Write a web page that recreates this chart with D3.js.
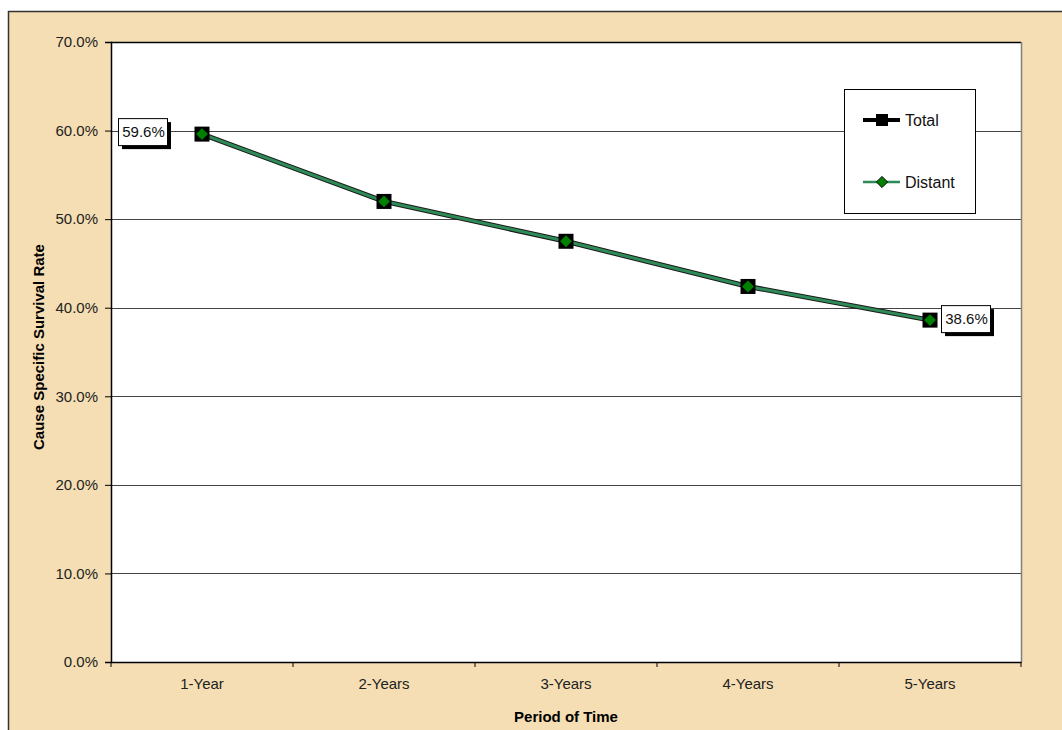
<!DOCTYPE html>
<html><head><meta charset="utf-8">
<script src="https://cdn.jsdelivr.net/npm/d3@7"></script>
<style>body{margin:0;background:#fff;font-family:Arial,"Liberation Sans",sans-serif}</style>
</head><body>
<svg id="c" width="1062" height="730"></svg>
<script>
const categories = ["1-Year","2-Years","3-Years","4-Years","5-Years"];
const totalValues = [0.596, 0.520, 0.475, 0.424, 0.386];
const distantValues = [0.596, 0.520, 0.475, 0.424, 0.386];
const yTicks = [0,0.1,0.2,0.3,0.4,0.5,0.6,0.7];
const seriesNames = ["Total","Distant"];

const FONT = "Arial, 'Liberation Sans', sans-serif";
const svg = d3.select("#c");
const L=111, T=42, R=1021, B=662;
const x = d3.scaleBand().domain(categories).range([L,R]);
const y = d3.scaleLinear().domain([0,0.7]).range([B,T]);
const fmt = d3.format(".1%");

// outer chart area
svg.append("rect").attr("x",8.5).attr("y",11.5).attr("width",1100).attr("height",800)
  .attr("fill","#F5DEB3").attr("stroke","#333").attr("stroke-width",1.5);
// plot area
svg.append("rect").attr("x",L).attr("y",T).attr("width",R-L).attr("height",B-T).attr("fill","#fff");

// gridlines
svg.append("g").selectAll("line").data(yTicks.filter(d=>d>0&&d<0.7)).join("line")
  .attr("x1",L).attr("x2",R).attr("y1",d=>Math.round(y(d))+0.5).attr("y2",d=>Math.round(y(d))+0.5)
  .attr("stroke","#444").attr("stroke-width",1);

// plot border
svg.append("line").attr("x1",L).attr("x2",R).attr("y1",T+0.5).attr("y2",T+0.5).attr("stroke","#000").attr("stroke-width",1.5);
svg.append("line").attr("x1",R+0.5).attr("x2",R+0.5).attr("y1",T).attr("y2",B).attr("stroke","#808080").attr("stroke-width",1.5);

// y axis
const ya = svg.append("g").attr("transform",`translate(${L},0)`)
  .call(d3.axisLeft(y).tickValues(yTicks).tickFormat(fmt).tickSize(6).tickPadding(7));
ya.select(".domain").attr("stroke","#000").attr("stroke-width",1.5);
ya.selectAll("text").style("font-family",FONT).style("font-size","15px").attr("fill","#222");

// x axis
const xa = svg.append("g").attr("transform",`translate(0,${B})`)
  .call(d3.axisBottom(x).tickSize(0).tickPadding(16));
xa.select(".domain").attr("stroke","#000").attr("stroke-width",1.5);
xa.selectAll("text").style("font-family",FONT).style("font-size","15px").attr("fill","#222");
svg.append("g").selectAll("line").data(d3.range(categories.length+1)).join("line")
  .attr("x1",i=>L+i*x.step()).attr("x2",i=>L+i*x.step()).attr("y1",B).attr("y2",B+5)
  .attr("stroke","#000");

// titles
svg.append("text").attr("x",(L+R)/2).attr("y",722).attr("text-anchor","middle")
  .style("font-size","15px").style("font-weight","bold").style("font-family",FONT).text("Period of Time");
svg.append("text").attr("transform",`translate(44,${(T+B)/2-5}) rotate(-90)`).attr("text-anchor","middle")
  .style("font-size","15px").style("font-weight","bold").style("font-family",FONT).text("Cause Specific Survival Rate");

const cx = d=>x(d)+x.bandwidth()/2;
const line = d3.line().x(d=>cx(d[0])).y(d=>y(d[1]));
const totalData = categories.map((c,i)=>[c,totalValues[i]]);
const distData = categories.map((c,i)=>[c,distantValues[i]]);

svg.append("path").attr("d",line(totalData)).attr("fill","none").attr("stroke","#1a1a1a").attr("stroke-width",5);
svg.append("path").attr("d",line(distData)).attr("fill","none").attr("stroke","#2E8B57").attr("stroke-width",3);

svg.append("g").selectAll("rect").data(totalData).join("rect")
  .attr("x",d=>cx(d[0])-7.5).attr("y",d=>y(d[1])-7.5).attr("width",15).attr("height",15).attr("fill","#000");
const diamond = d3.symbol().type(d3.symbolDiamond2).size(90);
svg.append("g").selectAll("path").data(distData).join("path")
  .attr("transform",d=>`translate(${cx(d[0])},${y(d[1])})`).attr("d",diamond).attr("fill","#008000");

// data labels
function label(px,py,text){
  const w=49,h=27;
  svg.append("rect").attr("x",px+4).attr("y",py+4).attr("width",w).attr("height",h).attr("fill","#000");
  svg.append("rect").attr("x",px+0.5).attr("y",py+0.5).attr("width",w).attr("height",h).attr("fill","#fff").attr("stroke","#000").attr("stroke-width",1);
  svg.append("text").attr("x",px+w/2+1).attr("y",py+19).attr("text-anchor","middle")
    .style("font-size","15px").style("font-family",FONT).attr("fill","#111").text(text);
}
label(cx(categories[0])-84, y(totalValues[0])-16, fmt(totalValues[0]));
label(cx(categories[4])+11, y(totalValues[4])-15, fmt(totalValues[4]));

// legend
const lg = svg.append("g");
lg.append("rect").attr("x",844.5).attr("y",89.5).attr("width",131).attr("height",124).attr("fill","#fff").attr("stroke","#000");
const ly = [120,182];
lg.append("line").attr("x1",863).attr("x2",900).attr("y1",ly[0]).attr("y2",ly[0]).attr("stroke","#000").attr("stroke-width",4);
lg.append("rect").attr("x",876).attr("y",ly[0]-6).attr("width",12).attr("height",12).attr("fill","#000");
lg.append("line").attr("x1",863).attr("x2",900).attr("y1",ly[1]).attr("y2",ly[1]).attr("stroke","#2E8B57").attr("stroke-width",2.5);
lg.append("path").attr("transform",`translate(882,${ly[1]})`).attr("d",d3.symbol().type(d3.symbolDiamond2).size(80)).attr("fill","#008000").attr("stroke","#000").attr("stroke-width",1);
lg.selectAll("text").data(seriesNames).join("text").attr("x",905).attr("y",(d,i)=>ly[i]+6)
  .style("font-size","16px").style("font-family",FONT).attr("fill","#111").text(d=>d);
</script>
</body></html>
